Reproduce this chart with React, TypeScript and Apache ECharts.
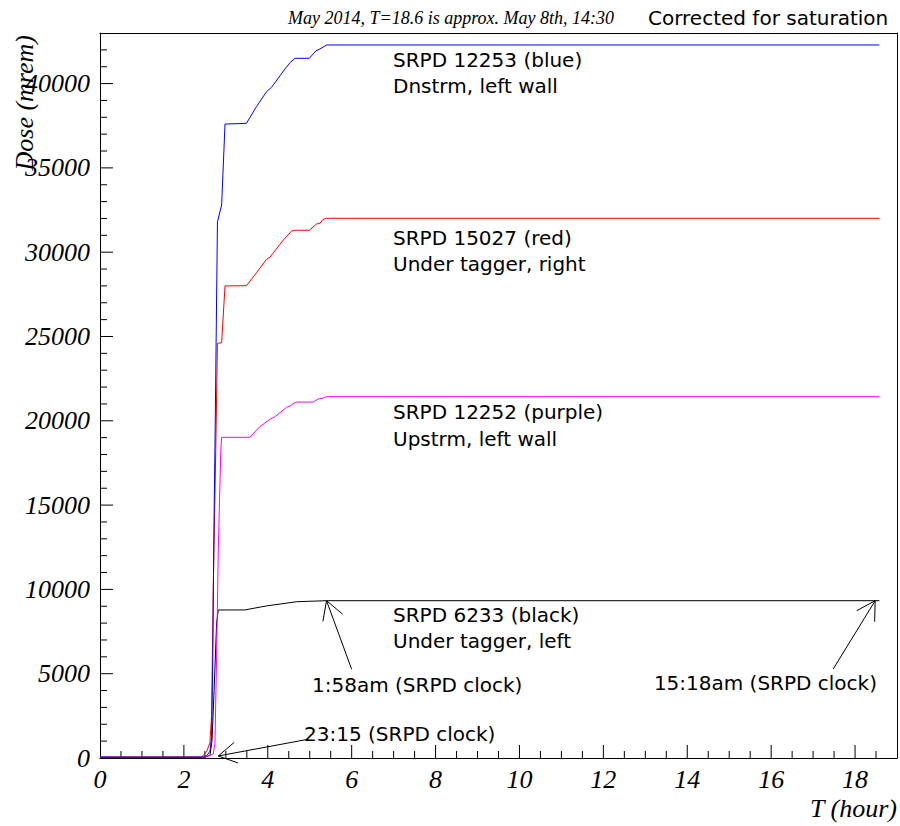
import React, { useEffect, useRef } from "react";
import * as echarts from "echarts";

// Dose (mrem) vs T (hour) for four SRPDs
const blueData: [number, number][] = [
  [0, 50], [2.45, 50], [2.55, 150], [2.62, 400], [2.66, 1200], [2.69, 6000], [2.71, 12300],
  [2.74, 18300], [2.8, 31800], [2.9, 32800], [2.98, 37600], [3.49, 37640], [3.73, 38630],
  [3.97, 39520], [4.09, 39780], [4.41, 40870], [4.53, 41240], [4.65, 41500], [4.99, 41500],
  [5.15, 41950], [5.24, 42050], [5.4, 42290], [18.58, 42290],
];
const redData: [number, number][] = [
  [0, 50], [2.42, 50], [2.54, 370], [2.62, 900], [2.66, 2500], [2.7, 10000], [2.76, 18300],
  [2.8, 24590], [2.9, 24630], [2.98, 28000], [3.49, 28010], [3.73, 28780], [3.97, 29580],
  [4.05, 29700], [4.37, 30720], [4.57, 31260], [4.65, 31300], [4.99, 31300], [5.16, 31670],
  [5.24, 31710], [5.32, 31950], [5.4, 32010], [18.58, 32010],
];
const purpleData: [number, number][] = [
  [0, 50], [2.5, 50], [2.62, 150], [2.7, 240], [2.74, 870], [2.78, 6000], [2.82, 12340],
  [2.88, 18270], [2.9, 19020], [3.57, 19020], [3.81, 19650], [4.05, 20090], [4.17, 20240],
  [4.45, 20800], [4.53, 20880], [4.67, 21110], [5.08, 21110], [5.2, 21290], [5.3, 21330],
  [5.4, 21430], [18.58, 21430],
];
const blackData: [number, number][] = [
  [0, 50], [2.5, 50], [2.62, 150], [2.67, 1000], [2.72, 4000], [2.78, 8000], [2.82, 8780],
  [3.45, 8780], [3.97, 9020], [4.69, 9270], [5.4, 9330], [18.58, 9330],
];
// arrows: [tailX, tailY, tipX, tipY]
const arrowData: number[][] = [
  [6.0, 5260, 5.4, 9330],
  [17.48, 5280, 18.48, 9330],
  [4.96, 1110, 2.82, 120],
];
// axis tick layout (ROOT style: major + minor ticks drawn inside the frame)
const xMax = 19;
const xMajorStep = 2;
const xMinorStep = 0.5;
const yMax = 43000;
const yMajorStep = 5000;
const yMinorStep = 1000;

const headerLeft = "May 2014, T=18.6 is approx. May 8th, 14:30";
const headerRight = "Corrected for saturation";
const notes: { text: string; x: number; y: number; align?: string }[] = [
  { text: "SRPD 12253 (blue)", x: 393, y: 60 },
  { text: "Dnstrm, left wall", x: 393, y: 86 },
  { text: "SRPD 15027 (red)", x: 393, y: 238 },
  { text: "Under tagger, right", x: 393, y: 264 },
  { text: "SRPD 12252 (purple)", x: 393, y: 412 },
  { text: "Upstrm, left wall", x: 393, y: 439 },
  { text: "SRPD 6233 (black)", x: 393, y: 615 },
  { text: "Under tagger, left", x: 393, y: 641 },
  { text: "1:58am (SRPD clock)", x: 312, y: 685 },
  { text: "15:18am (SRPD clock)", x: 877, y: 683, align: "right" },
  { text: "23:15 (SRPD clock)", x: 304, y: 734 },
];

const serif = "'Liberation Serif', 'Times New Roman', serif";
const sans = "'DejaVu Sans', sans-serif";

export default function App() {
  const ref = useRef<HTMLDivElement>(null);
  useEffect(() => {
    if (!ref.current) return;
    const chart = echarts.init(ref.current, null, { renderer: "svg" });
    const lineSeries = (name: string, data: [number, number][], color: string) => ({
      name,
      type: "line",
      data,
      showSymbol: false,
      symbol: "none",
      lineStyle: { color, width: 1 },
      itemStyle: { color },
      z: 3,
    });
    // tick items: [x, y, kind] kind 0 = x-axis tick, 1 = y-axis tick
    const tickItems: number[][] = [];
    for (let i = 1; i * xMinorStep < xMax; i++) tickItems.push([i * xMinorStep, 0, 0]);
    for (let i = 1; i * yMinorStep < yMax; i++) tickItems.push([0, i * yMinorStep, 1]);

    const frameAxis = {
      type: "value",
      axisLine: { show: true, onZero: false, lineStyle: { color: "#000", width: 1 } },
      axisTick: { show: false },
      minorTick: { show: false },
      axisLabel: { show: false },
      splitLine: { show: false },
    };
    const option: any = {
      animation: false,
      grid: { left: 100, top: 33, right: 3, bottom: 68 },
      xAxis: [
        {
          type: "value", min: 0, max: xMax, interval: xMajorStep, position: "bottom",
          axisLine: { show: true, onZero: false, lineStyle: { color: "#000", width: 1 } },
          axisTick: { show: false },
          minorTick: { show: false },
          splitLine: { show: false },
          axisLabel: {
            color: "#000", fontFamily: serif, fontStyle: "italic", fontSize: 26, margin: 8,
            showMaxLabel: false, formatter: (v: number) => String(v),
          },
        },
        { ...frameAxis, min: 0, max: xMax, position: "top" },
      ],
      yAxis: [
        {
          type: "value", min: 0, max: yMax, interval: yMajorStep, position: "left",
          axisLine: { show: true, onZero: false, lineStyle: { color: "#000", width: 1 } },
          axisTick: { show: false },
          minorTick: { show: false },
          splitLine: { show: false },
          axisLabel: {
            color: "#000", fontFamily: serif, fontStyle: "italic", fontSize: 26, margin: 10,
            showMaxLabel: false, formatter: (v: number) => String(v),
          },
        },
        { ...frameAxis, min: 0, max: yMax, position: "right" },
      ],
      series: [
        {
          type: "custom",
          data: tickItems,
          encode: { x: 0, y: 1 },
          z: 2,
          silent: true,
          renderItem: (_p: any, api: any) => {
            const kind = api.value(2);
            const p = api.coord([api.value(0), api.value(1)]);
            if (kind === 0) {
              const v = api.value(0);
              const major = Math.abs(v / xMajorStep - Math.round(v / xMajorStep)) < 1e-6;
              const len = major ? 13 : 7;
              return { type: "line", shape: { x1: p[0], y1: p[1], x2: p[0], y2: p[1] - len }, style: { stroke: "#000", lineWidth: 1 } };
            }
            const v = api.value(1);
            const major = Math.abs(v / yMajorStep - Math.round(v / yMajorStep)) < 1e-6;
            const len = major ? 13 : 7;
            return { type: "line", shape: { x1: p[0], y1: p[1], x2: p[0] + len, y2: p[1] }, style: { stroke: "#000", lineWidth: 1 } };
          },
        },
        lineSeries("SRPD 6233", blackData, "#000000"),
        lineSeries("SRPD 12252", purpleData, "#ff00ff"),
        lineSeries("SRPD 15027", redData, "#ff0000"),
        lineSeries("SRPD 12253", blueData, "#0000ff"),
        {
          type: "custom",
          data: arrowData,
          encode: { x: [0, 2], y: [1, 3] },
          z: 4,
          renderItem: (_p: any, api: any) => {
            const p0 = api.coord([api.value(0), api.value(1)]);
            const p1 = api.coord([api.value(2), api.value(3)]);
            const ang = Math.atan2(p0[1] - p1[1], p0[0] - p1[0]);
            const L = 21, a = Math.PI / 6;
            const h1 = [p1[0] + L * Math.cos(ang + a), p1[1] + L * Math.sin(ang + a)];
            const h2 = [p1[0] + L * Math.cos(ang - a), p1[1] + L * Math.sin(ang - a)];
            return {
              type: "group",
              children: [
                { type: "line", shape: { x1: p0[0], y1: p0[1], x2: p1[0], y2: p1[1] }, style: { stroke: "#000", lineWidth: 1 } },
                { type: "polyline", shape: { points: [h1, p1, h2] }, style: { stroke: "#000", fill: null, lineWidth: 1 } },
              ],
            };
          },
        },
      ],
      graphic: [
        { type: "text", x: 288, y: 18, style: { text: headerLeft, fill: "#000", font: `italic 18px ${serif}`, align: "left", verticalAlign: "middle" } },
        { type: "text", x: 648, y: 18, style: { text: headerRight, fill: "#000", font: `20px ${sans}`, align: "left", verticalAlign: "middle" } },
        { type: "text", x: 897, y: 808, style: { text: "T (hour)", fill: "#000", font: `italic 26px ${serif}`, align: "right", verticalAlign: "middle" } },
        { type: "text", x: 24, y: 35, rotation: Math.PI / 2, style: { text: "Dose (mrem)", fill: "#000", font: `italic 26px ${serif}`, align: "right", verticalAlign: "middle" } },
        ...notes.map((n) => ({
          type: "text", x: n.x, y: n.y, z: 10,
          style: { text: n.text, fill: "#000", font: `20px ${sans}`, align: n.align || "left", verticalAlign: "middle" },
        })),
      ],
    };
    chart.setOption(option);
    return () => chart.dispose();
  }, []);
  return <div ref={ref} style={{ position: "absolute", left: 0, top: 0, width: 900, height: 826, background: "#fff" }} />;
}
